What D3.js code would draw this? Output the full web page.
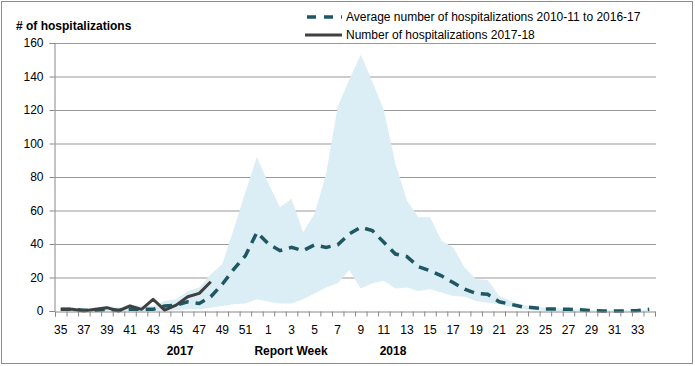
<!DOCTYPE html>
<html>
<head>
<meta charset="utf-8">
<script src="https://cdn.jsdelivr.net/npm/d3@7"></script>
<style>
  body { margin: 0; background: #fff; }
  svg { display: block; font-family: "Liberation Sans", Arial, sans-serif; }
  .axis text { font-size: 12px; fill: #000; }
</style>
</head>
<body>
<svg id="chart"></svg>
<script>
//Data
const weeks = [35, 36, 37, 38, 39, 40, 41, 42, 43, 44, 45, 46, 47, 48, 49, 50, 51, 52,
  1, 2, 3, 4, 5, 6, 7, 8, 9, 10, 11, 12, 13, 14, 15, 16, 17, 18, 19, 20,
  21, 22, 23, 24, 25, 26, 27, 28, 29, 30, 31, 32, 33, 34];

// average 2010-11 to 2016-17
const average = [1, 1, 0.5, 0.5, 1, 0.5, 1, 1, 1, 3, 3.5, 5.5, 4.5, 8.5, 16, 25, 33, 47,
  40, 36, 38, 36, 39.5, 38, 39.5, 46, 50, 48, 41, 34, 32.5, 26.5, 24, 21, 17, 13, 10.5, 10,
  5.5, 4, 2.5, 2, 1.2, 1.2, 1, 0.8, 0.3, 0, 0, 0, 0.3, 1];

// min / max band
const bandMax = [1, 2, 1.5, 2, 3, 2, 4, 3, 3, 6, 7, 12, 14, 22, 28, 49, 71, 92,
  76, 62, 67, 47, 58, 82, 122, 138, 153, 137, 120, 88, 66, 56, 56, 42, 38, 26, 19, 18.5,
  9, 6, 3.8, 2.6, 2, 1.5, 1, 0.8, 0.5, 0.5, 0.5, 0.5, 0.5, 1];
const bandMin = [0, 0, 0, 0, 0, 0, 0, 0, 0, 0, 0.5, 1, 1, 2, 3, 4, 4.5, 7,
  5.5, 4.5, 4.5, 7, 10.5, 14, 16.5, 24.5, 13.5, 16.5, 18, 13.5, 14, 12, 13, 11, 9, 8.5, 6, 5,
  4, 2.5, 1, 0.5, 0, 0, 0, 0, 0, 0, 0, 0, 0, 0];

// number of hospitalizations 2017-18 (up to week 48)
const current = [1, 1, 0, 1, 2, 0, 3, 1, 7, 0.5, 3.5, 8.5, 10.5, 17.5];

const yTicks = [0, 20, 40, 60, 80, 100, 120, 140, 160];
const legendLabels = ["Average number of hospitalizations 2010-11 to 2016-17",
  "Number of hospitalizations 2017-18"];

const w = 695;
const h = 366;
const plotLeft = 55, plotRight = 655, plotTop = 43, plotBottom = 311;

const svg = d3.select("#chart").attr("width", w).attr("height", h);

//Frame
svg.append("rect")
   .attr("x", 1.5).attr("y", 1.5)
   .attr("width", 691).attr("height", 362)
   .attr("fill", "#fff")
   .attr("stroke", "#8c8c8c");

//Scales
const x = d3.scaleBand().domain(d3.range(weeks.length)).range([plotLeft, plotRight]).padding(0);
const cx = (i) => x(i) + x.bandwidth() / 2;
const y = d3.scaleLinear().domain([0, 160]).range([plotBottom, plotTop]);

//Gridlines
svg.append("g")
   .attr("transform", `translate(${plotLeft},0)`)
   .call(d3.axisLeft(y).tickValues(yTicks.slice(1)).tickSize(-(plotRight - plotLeft + 1)).tickFormat(""))
   .call(g => g.select(".domain").remove())
   .call(g => g.selectAll("line").attr("stroke", "#999").attr("stroke-width", 1.2));

//Band
const area = d3.area()
  .x((d, i) => cx(i))
  .y0((d, i) => y(bandMin[i]))
  .y1((d, i) => y(bandMax[i]));
svg.append("path")
   .datum(weeks)
   .attr("d", area)
   .attr("fill", "#dbeef5");

//Average line
const line = d3.line().x((d, i) => cx(i)).y(d => y(d));
svg.append("path")
   .datum(average)
   .attr("d", line)
   .attr("fill", "none")
   .attr("stroke", "#1f5763")
   .attr("stroke-width", 3.5)
   .attr("stroke-dasharray", "10,7");

//Current season
svg.append("path")
   .datum(current)
   .attr("d", line)
   .attr("fill", "none")
   .attr("stroke", "#404040")
   .attr("stroke-width", 3)
   .attr("stroke-linejoin", "round");

//Y axis
svg.append("g")
   .attr("class", "axis")
   .attr("transform", `translate(${plotLeft - 0.5},0)`)
   .call(d3.axisLeft(y).tickValues(yTicks).tickSize(5).tickPadding(6))
   .call(g => g.selectAll("line, .domain").attr("stroke", "#888"));

//X axis: boundary ticks
const xb = d3.scaleLinear().domain([0, weeks.length]).range([plotLeft, plotRight]);
svg.append("g")
   .attr("transform", `translate(0,${plotBottom + 0.5})`)
   .call(d3.axisBottom(xb).tickValues(d3.range(weeks.length + 1)).tickSize(5).tickFormat(""))
   .call(g => g.selectAll("line, .domain").attr("stroke", "#888"));

//X axis: labels
svg.append("g")
   .attr("class", "axis")
   .attr("transform", `translate(0,${plotBottom + 0.5})`)
   .call(d3.axisBottom(x).tickSize(0).tickPadding(14)
     .tickValues(d3.range(0, weeks.length, 2))
     .tickFormat(i => weeks[i]))
   .call(g => g.select(".domain").remove());

//Titles
svg.append("text")
   .attr("x", 16).attr("y", 30)
   .attr("font-size", 12).attr("font-weight", "bold")
   .text("# of hospitalizations");

const under = [{t: "2017", x: 180}, {t: "Report Week", x: 291}, {t: "2018", x: 393}];
svg.selectAll(".under")
   .data(under)
   .enter()
   .append("text")
   .attr("x", d => d.x).attr("y", 355)
   .attr("text-anchor", "middle")
   .attr("font-size", 12).attr("font-weight", "bold")
   .text(d => d.t);

//Legend
const legend = svg.append("g").attr("transform", "translate(305,0)");
legend.append("line")
      .attr("x1", 0).attr("x2", 37).attr("y1", 17).attr("y2", 17)
      .attr("stroke", "#1f5763").attr("stroke-width", 3.5)
      .attr("stroke-dasharray", "9,8").attr("stroke-dashoffset", -2);
legend.append("line")
      .attr("x1", 0).attr("x2", 37).attr("y1", 35).attr("y2", 35)
      .attr("stroke", "#404040").attr("stroke-width", 3);
legend.selectAll(".lbl")
      .data(legendLabels)
      .enter()
      .append("text")
      .attr("x", 41)
      .attr("y", (d, i) => 21 + i * 18)
      .attr("font-size", 12)
      .text(d => d);
</script>
</body>
</html>
